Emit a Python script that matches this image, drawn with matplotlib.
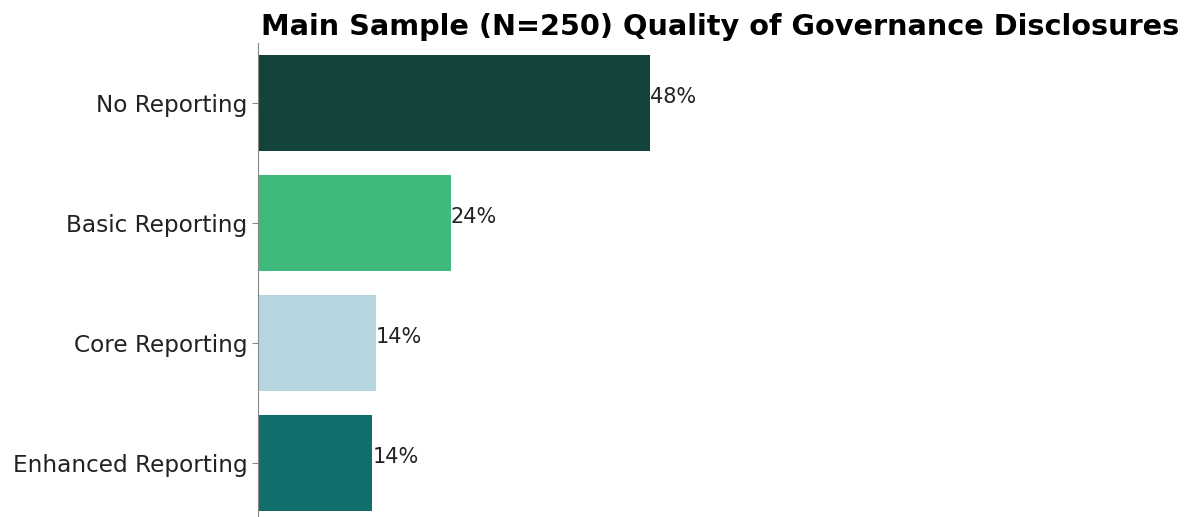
import matplotlib
matplotlib.use('Agg')
import matplotlib.pyplot as plt

categories = ['No Reporting', 'Basic Reporting', 'Core Reporting', 'Enhanced Reporting']
shares = [48.0, 23.6, 14.4, 14.0]
labels = ['48%', '24%', '14%', '14%']
colors = ['#12443c', '#3ebb7c', '#b5d5df', '#126e6b']

fig = plt.figure(figsize=(12.03, 5.17), dpi=100)
ax = fig.add_axes([258/1203, 0.0, 924/1203, 474/517])

y = list(range(len(categories)))
ax.barh(y, shares, height=0.8, color=colors)
for yi, v, lab in zip(y, shares, labels):
    ax.text(v, yi - 0.05, lab, va='center', ha='left', fontsize=15, color='#222222')

ax.set_yticks(y)
ax.set_yticklabels(categories, fontsize=16.7, color='#222222')
ax.set_ylim(3.45, -0.5)
ax.set_xlim(0, 113)
ax.set_xticks([])
for s in ['top', 'right', 'bottom']:
    ax.spines[s].set_visible(False)
ax.spines['left'].set_color('#888888')
ax.tick_params(axis='y', length=4, color='#888888')
ax.set_title('Main Sample (N=250) Quality of Governance Disclosures',
             fontsize=20.7, fontweight='bold', pad=6)

fig.savefig('out.png', dpi=100)
